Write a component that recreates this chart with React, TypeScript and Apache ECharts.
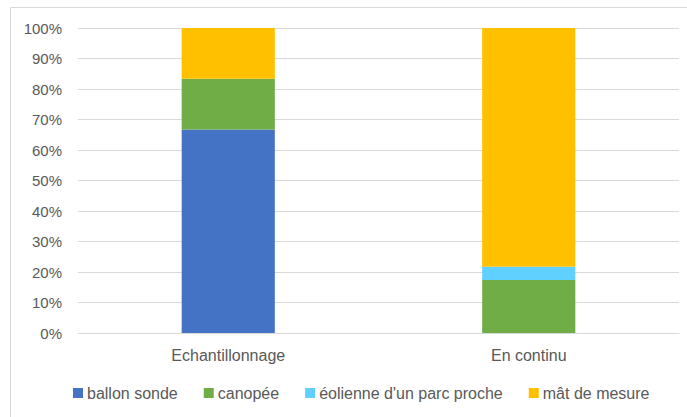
import React, { useEffect, useRef } from "react";
import * as echarts from "echarts";

const categories = ["Echantillonnage", "En continu"];
const seriesNames = ["ballon sonde", "canopée", "éolienne d'un parc proche", "mât de mesure"];
const ballonSonde = [66.7, 0];
const canopee = [16.7, 17.4];
const eolienne = [0, 4.3];
const matMesure = [16.6, 78.3];
const yTicks = [0, 10, 20, 30, 40, 50, 60, 70, 80, 90, 100];

const colors = ["#4472C4", "#70AD47", "#5FD0FF", "#FFC000"];
const FONT = "'Liberation Sans', Arial, sans-serif";

export default function App() {
  const ref = useRef<HTMLDivElement>(null);
  useEffect(() => {
    document.body.style.margin = "0";
    const chart = echarts.init(ref.current!, null, { renderer: "svg" });
    const values = [ballonSonde, canopee, eolienne, matMesure];
    chart.setOption({
      animation: false,
      backgroundColor: "#ffffff",
      textStyle: { fontFamily: FONT },
      graphic: [
        {
          type: "rect",
          shape: { x: 10.5, y: 7.5, width: 700, height: 430 },
          style: { fill: "none", stroke: "#d9d9d9", lineWidth: 1 },
          silent: true,
        },
      ],
      grid: { left: 78, right: 8, top: 28, bottom: 84, containLabel: false },
      legend: {
        left: 68,
        top: 380,
        icon: "rect",
        itemWidth: 10,
        itemHeight: 10,
        itemGap: 26,
        textStyle: { color: "#595959", fontSize: 16, fontFamily: FONT, padding: [0, 0, 0, -1] },
        data: seriesNames,
      },
      xAxis: {
        type: "category",
        data: categories,
        axisLine: { lineStyle: { color: "#d9d9d9", width: 1 } },
        axisTick: { show: false },
        axisLabel: { color: "#595959", fontSize: 16, margin: 14, fontFamily: FONT },
      },
      yAxis: {
        type: "value",
        min: yTicks[0],
        max: yTicks[yTicks.length - 1],
        interval: 10,
        axisLine: { show: false },
        axisTick: { show: false },
        splitLine: { lineStyle: { color: "#d9d9d9", width: 1 } },
        axisLabel: { color: "#595959", fontSize: 15, margin: 16, fontFamily: FONT, formatter: "{value}%" },
      },
      series: seriesNames.map((name, i) => ({
        name,
        type: "bar",
        stack: "total",
        barWidth: "31%",
        data: values[i],
        itemStyle: { color: colors[i] },
      })),
    });
    return () => chart.dispose();
  }, []);
  return <div ref={ref} style={{ position: "fixed", left: 0, top: 0, width: 687, height: 417 }} />;
}
